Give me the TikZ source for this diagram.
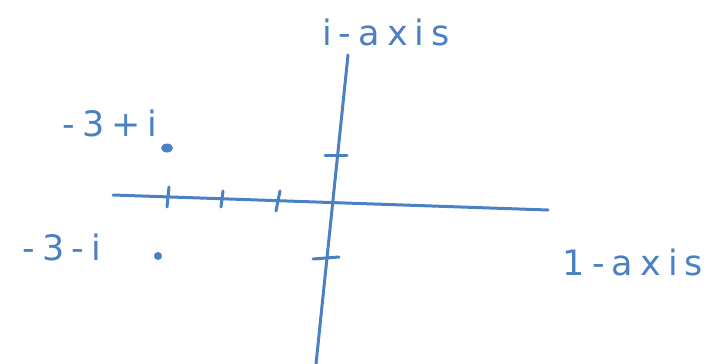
\documentclass[tikz,border=0pt]{standalone}
\usepackage{fontspec}
\setmainfont{DejaVu Sans}[LetterSpace=20]
\definecolor{ink}{RGB}{74,128,196}
\begin{document}
\begin{tikzpicture}[x=1pt,y=-1pt,
  axisline/.style={draw=ink,line width=3pt,line cap=round},
  tick/.style={draw=ink,line width=3pt,line cap=round},
  lbl/.style={text=ink,font=\fontsize{35}{37}\selectfont,inner sep=0pt},
  pt/.style={ellipse,fill=ink,inner sep=0pt,minimum width=12pt,minimum height=9pt}]
\usetikzlibrary{shapes.geometric}
\useasboundingbox (0,0) rectangle (710,364);
% axes
\coordinate (hl) at (113,195);
\coordinate (hr) at (548,210);
\coordinate (vt) at (348,55);
\coordinate (vb) at (316,364);
\draw[axisline] (hl) -- (hr);
\draw[axisline] (vt) -- (vb);
% ticks on real axis
\coordinate (t1) at (168,197);
\coordinate (t2) at (222,199);
\coordinate (t3) at (278,201);
\draw[tick] ([shift={(1,-10)}]t1) -- ([shift={(-1,10)}]t1);
\draw[tick] ([shift={(1,-8)}]t2) -- ([shift={(-1,8)}]t2);
\draw[tick] ([shift={(2,-10)}]t3) -- ([shift={(-2,10)}]t3);
% ticks on imaginary axis
\coordinate (u1) at (336,155);
\coordinate (d1) at (326,258);
\draw[tick] ([shift={(-11,0)}]u1) -- ([shift={(11,0)}]u1);
\draw[tick] ([shift={(-13,1)}]d1) -- ([shift={(13,-1)}]d1);
% points
\node[pt] (p1) at (167,148) {};
\node[pt,minimum width=8pt,minimum height=8pt] (p2) at (158,256) {};
% labels
\node[lbl] (l1) at (110,123) {-3+i};
\node[lbl] (l2) at (62,247) {-3-i};
\node[lbl] (l3) at (386,32) {i-axis};
\node[lbl] (l4) at (633,262) {1-axis};
\end{tikzpicture}
\end{document}
